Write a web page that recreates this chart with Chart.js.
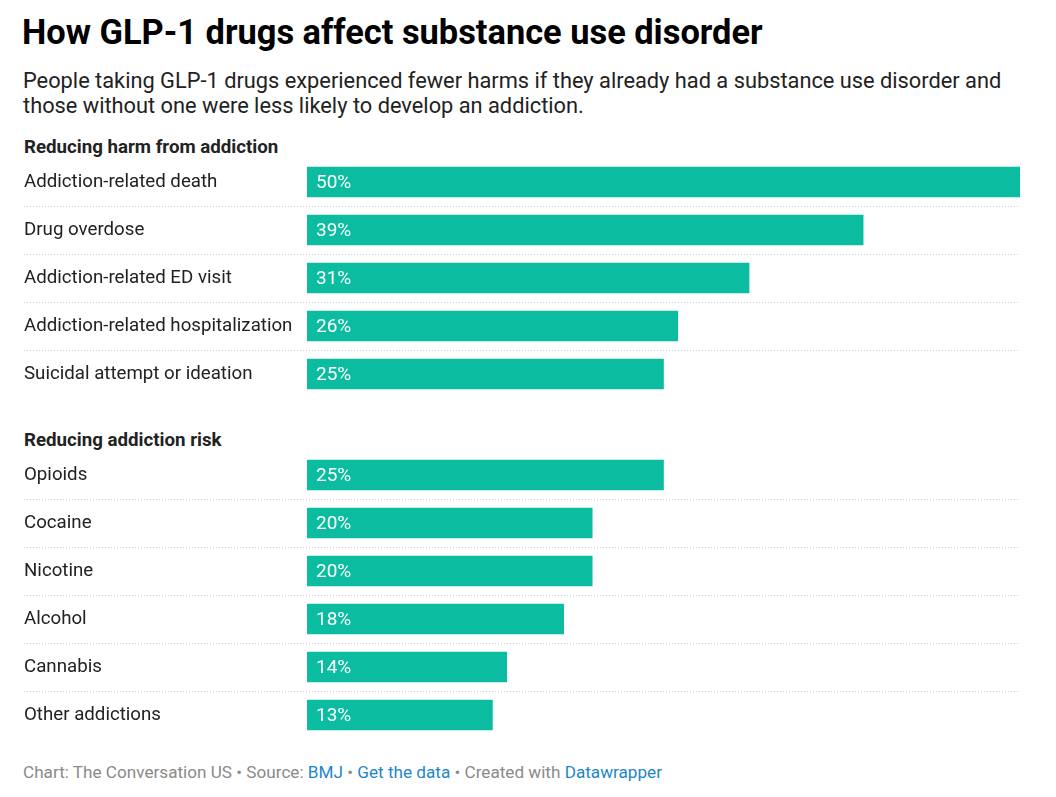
<!DOCTYPE html>
<html>
<head>
<meta charset="utf-8">
<script src="https://cdn.jsdelivr.net/npm/chart.js@4"></script>
<style>
  body { margin: 0; background: #fff; font-family: Roboto, sans-serif; color: #181818; }
  .wrap { position: relative; width: 1056px; height: 797px; }
  .title { position: absolute; left: 22px; top: 12px; font-size: 34.4px; font-weight: 700; line-height: 40px; color: #000; white-space: nowrap; }
  .sub { position: absolute; left: 23px; top: 68px; font-size: 21.8px; line-height: 25px; color: #222; white-space: nowrap; }
  .head { position: absolute; left: 24px; font-size: 18.7px; font-weight: 700; line-height: 22px; color: #222; }
  .box { position: absolute; left: 0; width: 1056px; }
  .foot { position: absolute; left: 23px; top: 762px; font-size: 17.15px; line-height: 20px; color: #8a8a8a; white-space: nowrap; }
  .foot a { color: #1d87c9; text-decoration: none; }
</style>
</head>
<body>
<div class="wrap">
  <div class="title">How GLP-1 drugs affect substance use disorder</div>
  <div class="sub">People taking GLP-1 drugs experienced fewer harms if they already had a substance use disorder and<br>those without one were less likely to develop an addiction.</div>
  <div class="head" style="top:136px">Reducing harm from addiction</div>
  <div class="box" style="top:158px;height:240px"><canvas id="harm"></canvas></div>
  <div class="head" style="top:429px">Reducing addiction risk</div>
  <div class="box" style="top:451px;height:288px"><canvas id="risk"></canvas></div>
  <div class="foot">Chart: The Conversation US • Source: <a>BMJ</a> • <a>Get the data</a> • Created with <a>Datawrapper</a></div>
</div>
<script>
// data
const harmLabels = [
  'Addiction-related death',
  'Drug overdose',
  'Addiction-related ED visit',
  'Addiction-related hospitalization',
  'Suicidal attempt or ideation'
];
const harmValues = [50, 39, 31, 26, 25];

const riskLabels = ['Opioids', 'Cocaine', 'Nicotine', 'Alcohol', 'Cannabis', 'Other addictions'];
const riskValues = [25, 20, 20, 18, 14, 13];

const barColor = '#0bbca0';

// dotted lines between rows + value labels inside bars
const rowDecor = {
  id: 'rowDecor',
  beforeDatasetsDraw(chart) {
    const ctx = chart.ctx;
    const y = chart.scales.y;
    ctx.save();
    ctx.strokeStyle = '#cfcfcf';
    ctx.lineWidth = 1;
    ctx.setLineDash([1, 2]);
    for (let i = 0; i < y.ticks.length - 1; i++) {
      const py = Math.round((y.getPixelForTick(i) + y.getPixelForTick(i + 1)) / 2) + 0.5;
      ctx.beginPath();
      ctx.moveTo(24, py);
      ctx.lineTo(chart.chartArea.right, py);
      ctx.stroke();
    }
    ctx.restore();
  },
  afterDatasetsDraw(chart) {
    const ctx = chart.ctx;
    const meta = chart.getDatasetMeta(0);
    const vals = chart.data.datasets[0].data;
    ctx.save();
    ctx.fillStyle = '#fff';
    ctx.font = '400 19px Roboto';
    ctx.textBaseline = 'middle';
    meta.data.forEach((bar, i) => {
      ctx.fillText(vals[i] + '%', bar.base + 9, bar.y + 1);
    });
    ctx.restore();
  }
};

function makeChart(id, labels, values) {
  return new Chart(document.getElementById(id), {
    type: 'bar',
    data: {
      labels,
      datasets: [{ data: values, backgroundColor: barColor, barThickness: 30 }]
    },
    options: {
      indexAxis: 'y',
      responsive: true,
      maintainAspectRatio: false,
      animation: false,
      layout: { padding: { left: 24, right: 36, top: 0, bottom: 0 } },
      plugins: { legend: { display: false }, tooltip: { enabled: false } },
      scales: {
        x: { display: false, min: 0, max: 50 },
        y: {
          border: { display: false },
          grid: { display: false, drawTicks: false },
          ticks: {
            crossAlign: 'far',
            padding: 0,
            color: '#222',
            font: { family: 'Roboto', size: 18.7 }
          },
          afterFit(scale) {
            scale.width = 283;
            scale.paddingTop = 0;
            scale.paddingBottom = 0;
          }
        }
      }
    },
    plugins: [rowDecor]
  });
}

makeChart('harm', harmLabels, harmValues);
makeChart('risk', riskLabels, riskValues);
</script>
</body>
</html>
